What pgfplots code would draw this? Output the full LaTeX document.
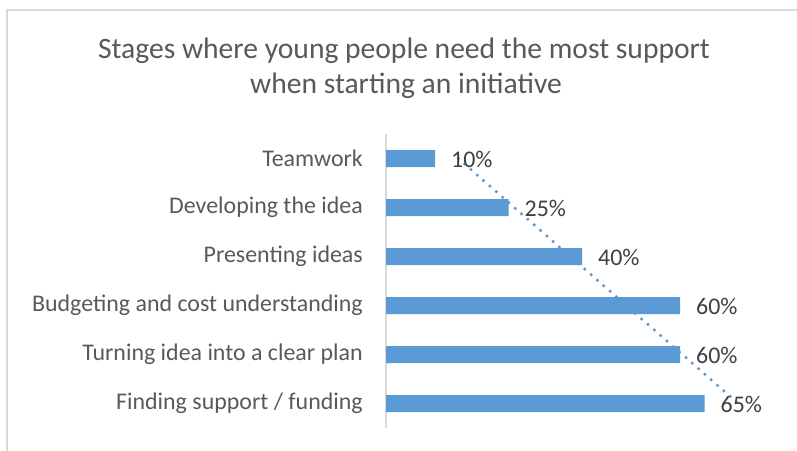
\documentclass[border=0pt]{standalone}
\usepackage{fontspec}
\setmainfont{Carlito}
\usepackage{pgfplots}
\pgfplotsset{compat=1.18}
\definecolor{barblue}{HTML}{5B9BD5}
\definecolor{labgray}{HTML}{595959}
\definecolor{valgray}{HTML}{404040}
\definecolor{framegray}{HTML}{D9D9D9}
\begin{document}
\begin{tikzpicture}
\useasboundingbox (0,0) rectangle (797bp,-451bp);
\fill[white] (0,0) rectangle (797bp,-451bp);
\draw[framegray, line width=1.2bp] (7bp,-460bp) -- (7bp,-10bp) -- (810bp,-10bp);
\node[anchor=base, text=labgray, font=\fontsize{29.7}{34}\selectfont, inner sep=0pt] at (404bp,-58bp) {Stages where young people need the most support};
\node[anchor=base, text=labgray, font=\fontsize{29.7}{34}\selectfont, inner sep=0pt] at (406bp,-93bp) {when starting an initiative};
\begin{axis}[
  at={(386bp,-428bp)}, anchor=south west,
  scale only axis, width=392bp, height=294bp,
  xmin=0, xmax=80, ymin=-0.5, ymax=5.5, y dir=reverse,
  bar width=17bp,
  ytick={0,1,2,3,4,5},
  yticklabels={Teamwork, Developing the idea, Presenting ideas, Budgeting and cost understanding, Turning idea into a clear plan, Finding support / funding},
  xtick=\empty,
  ytick style={draw=none},
  axis lines*=left,
  x axis line style={draw=none},
  y axis line style={draw=framegray, line width=1.5bp},
  clip=false,
  /pgf/number format/assume math mode=true,
  yticklabel style={font=\fontsize{24}{28}\selectfont, text=labgray, inner sep=0pt, xshift=-23bp},
]
\addplot[xbar, fill=barblue, draw=none,
  point meta=x,
  nodes near coords={\pgfmathprintnumber[assume math mode=true]{\pgfplotspointmeta}\%},
  nodes near coords style={anchor=west, inner sep=0pt, xshift=16bp, yshift=-1bp, text=valgray, font=\fontsize{24}{28}\selectfont}]
  coordinates {(10,0) (25,1) (40,2) (60,3) (60,4) (65,5)};
\addplot[sharp plot, barblue, line width=3.5bp, line cap=round, dash pattern=on 0pt off 8.4bp]
  coordinates {(14.76,0) (71.90,5)};
\end{axis}
\end{tikzpicture}
\end{document}
